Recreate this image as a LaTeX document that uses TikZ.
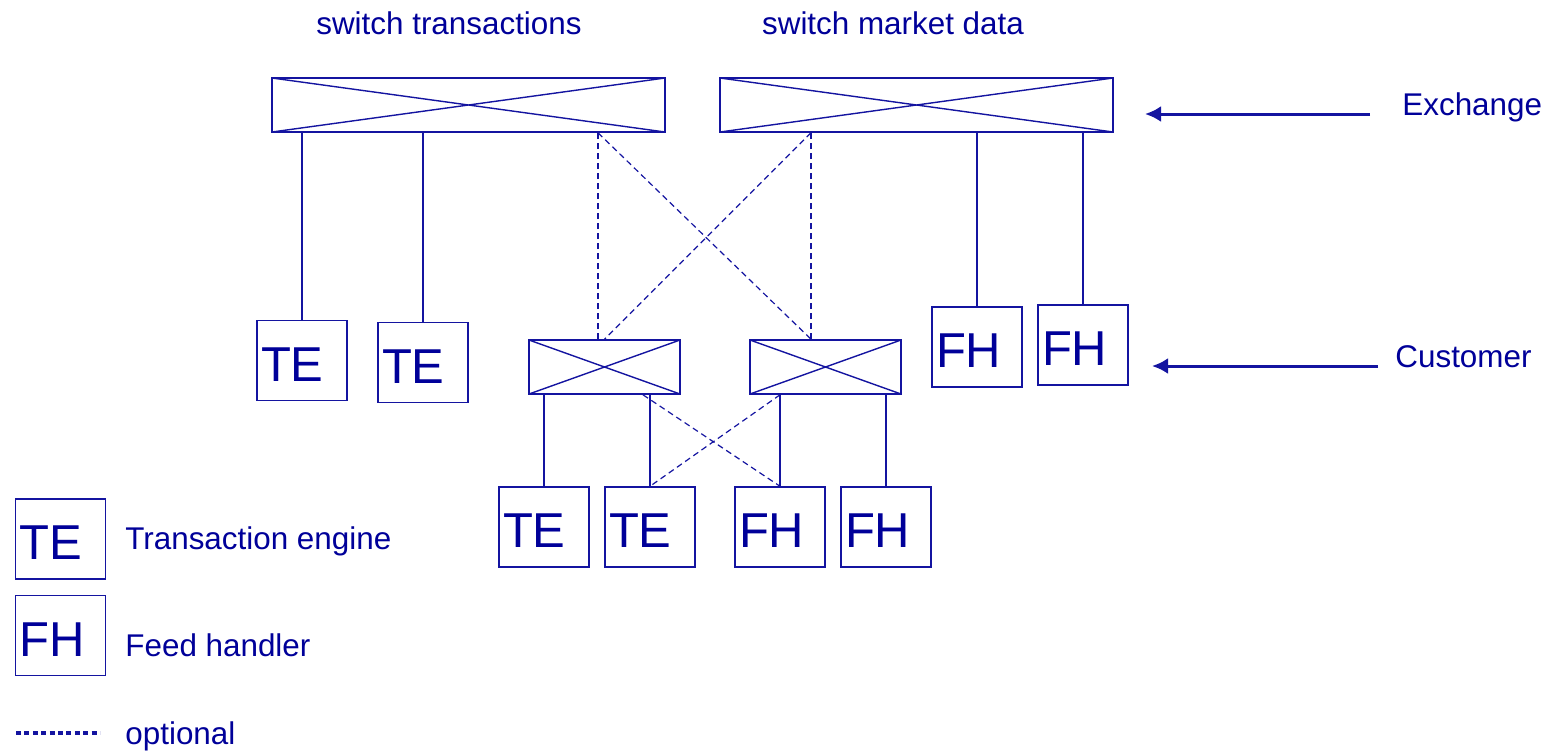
\documentclass[tikz,border=0pt]{standalone}
\usepackage{fontspec}
\setmainfont{Liberation Sans}
\usepackage{tikz}
\usetikzlibrary{arrows.meta,calc,positioning}
\definecolor{exblue}{RGB}{0,0,153}
\definecolor{exline}{RGB}{20,20,160}
\tikzstyle{switchbox} = [rectangle, draw=exline, line width=0.8pt, inner sep=0pt, minimum height=27pt,
  path picture={\draw[exline, line width=0.7pt] (path picture bounding box.north west) -- (path picture bounding box.south east)
    (path picture bounding box.south west) -- (path picture bounding box.north east);}]
\tikzstyle{unitbox} = [rectangle, draw=exline, line width=0.75pt, minimum width=45pt, minimum height=40pt,
  text width=41pt, text height=20.5pt, text depth=0pt, inner xsep=2pt, inner ysep=0pt, align=left, text=exblue,
  font=\fontsize{24.5}{28}\selectfont]
\tikzstyle{lbl} = [text=exblue, inner sep=0pt, font=\fontsize{15.7}{19}\selectfont]
\tikzstyle{linkline} = [exline, line width=0.75pt]
\tikzstyle{optline} = [exline, line width=0.6pt, dash pattern=on 3pt off 2pt]
\tikzstyle{levelarrow} = [exline, line width=1.5pt, -{Latex[length=8pt,width=8pt]}]

\begin{document}
\begin{tikzpicture}[x=0.5pt, y=-0.5pt]
\useasboundingbox (0,0) rectangle (1546,751);

% Switches
\node[switchbox, minimum width=196.5pt] (st) at (468.5,105) {};
\node[switchbox, minimum width=196.5pt] (sm) at (916.5,105) {};
\node[lbl, anchor=base] (stlbl) at (449,34) {switch transactions};
\node[lbl, anchor=base] (smlbl) at (893,34) {switch market data};
\node[switchbox, minimum width=75.5pt] (sw1) at (604.5,367) {};
\node[switchbox, minimum width=75.5pt] (sw2) at (825.5,367) {};

% Customer engines and handlers
\node[unitbox] (te1) at (302,360.5) {TE};
\node[unitbox] (te2) at (423,362.5) {TE};
\node[unitbox] (fh1) at (977,347) {FH};
\node[unitbox] (fh2) at (1083,345) {FH};
\node[unitbox] (te3) at (544,527) {TE};
\node[unitbox] (te4) at (650,527) {TE};
\node[unitbox] (fh3) at (780,527) {FH};
\node[unitbox] (fh4) at (886,527) {FH};

% Direct links
\draw[linkline] (te1.north) -- (te1.north |- st.south);
\draw[linkline] (te2.north) -- (te2.north |- st.south);
\draw[linkline] (fh1.north) -- (fh1.north |- sm.south);
\draw[linkline] (fh2.north) -- (fh2.north |- sm.south);
\draw[linkline] (te3.north) -- (te3.north |- sw1.south);
\draw[linkline] (te4.north) -- (te4.north |- sw1.south);
\draw[linkline] (fh3.north) -- (fh3.north |- sw2.south);
\draw[linkline] (fh4.north) -- (fh4.north |- sw2.south);

% Optional links
\coordinate (ta) at ($(sw1.north)+(-6.5,0)$);
\coordinate (tb) at ($(sw2.north)+(-14.5,0)$);
\coordinate (bc) at ($(sw1.south)+(38.5,0)$);
\draw[optline] (ta) -- (ta |- st.south);
\draw[optline] (tb) -- (tb |- sm.south);
\draw[optline] (ta |- st.south) -- (tb);
\draw[optline] (tb |- sm.south) -- (sw1.north);
\draw[optline] (bc) -- (fh3.north);
\draw[optline] (fh3.north |- sw2.south) -- (te4.north);

% Levels
\node[lbl, anchor=base west] (exlbl) at (1402,115) {Exchange};
\node[lbl, anchor=base west] (culbl) at (1395,367) {Customer};
\coordinate (exfrom) at (1370,114);
\coordinate (exto) at (1145,114);
\coordinate (cufrom) at (1378,366);
\coordinate (cuto) at (1152,366);
\draw[levelarrow] (exfrom) -- (exto);
\draw[levelarrow] (cufrom) -- (cuto);

% Legend
\node[unitbox] (lgte) at (60.5,539) {TE};
\node[unitbox] (lgfh) at (60.5,635.5) {FH};
\node[lbl, anchor=base west] (lgtelbl) at (125,549) {Transaction engine};
\node[lbl, anchor=base west] (lgfhlbl) at (125,656) {Feed handler};
\coordinate (opa) at (16,733);
\coordinate (opb) at (100,733);
\draw[exline, line width=2pt, dash pattern=on 2.5pt off 1.7pt] (opa) -- (opb);
\node[lbl, anchor=base west] (oplbl) at (125,744) {optional};
\end{tikzpicture}
\end{document}
